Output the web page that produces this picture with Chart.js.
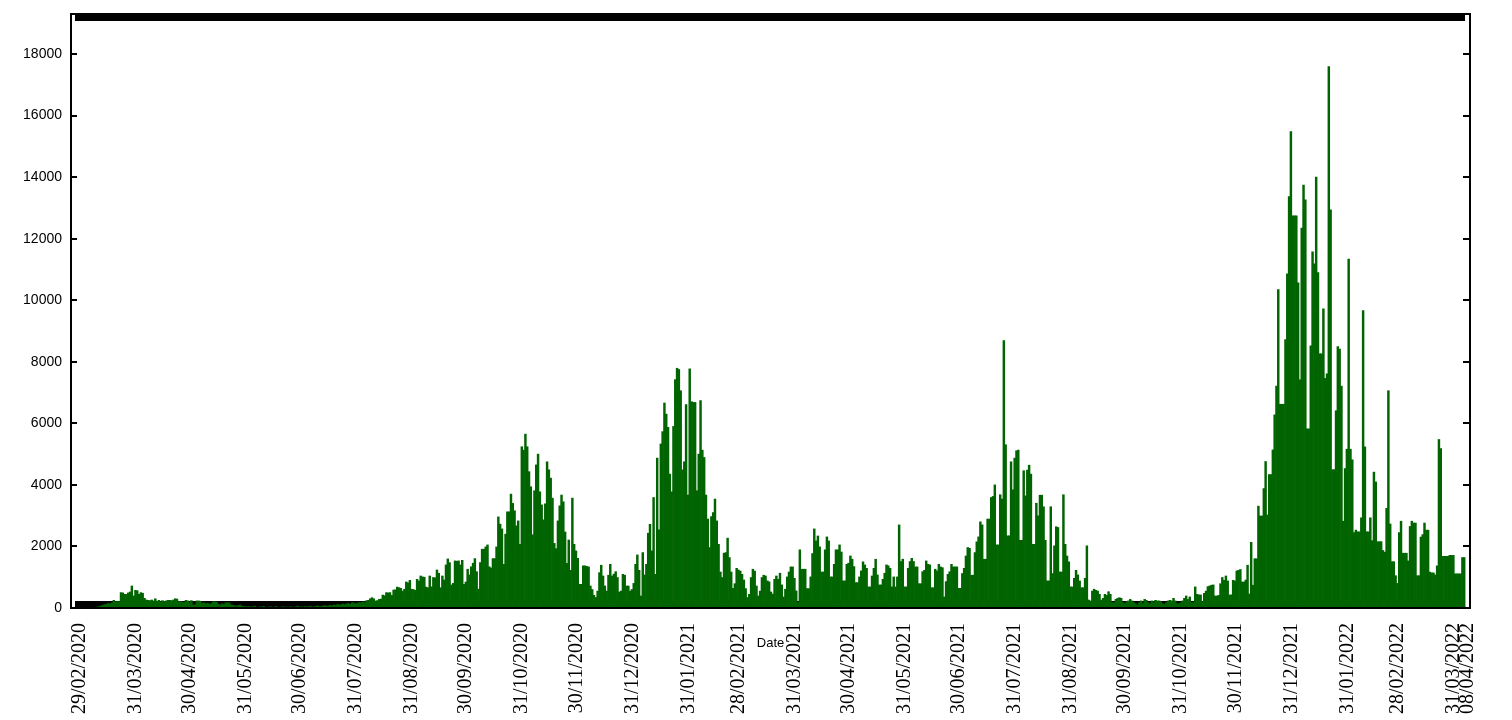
<!DOCTYPE html>
<html>
<head>
<meta charset="utf-8">
<title>Daily cases</title>
<script src="https://cdn.jsdelivr.net/npm/chart.js@4.4.1/dist/chart.umd.min.js"></script>
<style>
    html, body { margin: 0; padding: 0; background: #ffffff; }
</style>
</head>
<body>
<canvas id="myChart" width="1512" height="720"></canvas>
<script>
// daily values, one array per month
const feb2020 = [0];
const mar2020 = [0,2,0,3,5,2,8,10,12,20,25,35,45,70,90,110,120,150,140,170,250,200,210,200,500,490,445,440,490,520,715];
const apr2020 = [390,575,560,445,500,480,315,260,250,240,260,230,300,220,250,200,240,210,230,250,250,240,260,300,290,200,210,190,180,250];
const may2020 = [230,170,240,100,100,230,230,220,150,170,130,160,120,140,200,200,190,120,100,140,110,170,170,160,100,90,70,65,80,100,60];
const jun2020 = [50,45,40,45,30,35,60,25,20,40,30,55,20,15,35,40,25,30,50,20,15,30,45,25,35,20,40,30,25,45];
const jul2020 = [60,30,40,25,50,35,45,60,30,40,55,70,45,50,65,80,60,70,90,70,100,85,120,95,110,130,100,140,150,120,170];
const aug2020 = [160,130,150,180,170,200,170,240,250,300,335,300,230,240,280,290,420,400,500,490,500,410,585,590,680,660,640,550,610,845,820];
const sep2020 = [900,610,600,575,930,880,1040,1010,1000,680,660,1040,690,990,980,1235,1130,660,1040,910,1400,1595,1475,750,800,1530,1520,1530,1400,1550];
const oct2020 = [770,845,1260,1075,1340,1455,1605,1180,610,1475,1910,1910,1985,2050,1340,1300,1605,1605,1985,2960,2725,2570,1420,2400,3125,3125,3700,3400,3160,2670,2830];
const nov2020 = [2070,5240,5130,5650,5240,4430,3940,2380,3810,4650,5000,3775,3350,2865,3385,4750,4490,4220,3570,2100,1930,2830,3320,3670,3450,2470,1450,2210,1225,3570];
const dec2020 = [2070,1855,1615,770,770,1370,1370,1350,1335,715,600,410,340,550,1150,1390,1040,715,550,1065,1420,1040,1100,1180,990,520,550,1095,1065,715,715];
const jan2021 = [550,600,800,1420,1725,1225,390,1800,1075,1420,2430,2720,1855,3590,1095,4870,2540,5330,5730,6660,6300,5870,4350,3775,5900,7420,7790,7750,7060,4490,4750];
const feb2021 = [6610,3670,7770,6705,6680,6680,3810,5000,6740,5130,4890,3670,2890,1965,2970,3100,3540,2830,2070,1170,990,1780,1800,2270,1640,1170,640,790];
const mar2021 = [1290,1235,1200,1095,910,630,340,445,990,1260,1200,715,390,550,990,1065,1040,880,850,520,450,933,1040,933,1130,750,360,610,1010,1170,1335];
const apr2021 = [1335,965,555,175,1890,1260,1260,1260,630,630,1010,1770,2570,2180,2340,1985,1170,1170,1890,2310,2180,1010,1010,1420,1890,1890,2050,1820,880,880];
const may2021 = [1420,1455,1690,1585,1345,825,825,1010,1205,1500,1400,1290,685,685,1040,1290,1585,1075,750,750,933,1130,1400,1370,1290,685,1010,685,1010,2700,1510];
const jun2021 = [1585,685,685,1290,1510,1615,1510,1335,1335,790,790,1180,1225,1530,1420,1400,660,660,1260,1205,1420,1335,1310,360,857,1095,1180,1420,1335,1335];
const jul2021 = [1335,640,640,1120,1290,1690,1965,1940,1065,1065,1800,2150,2310,2800,2700,1585,1585,2890,2890,3590,3625,4000,2050,2050,3680,3540,8690,5305,2345,2345,4750];
const aug2021 = [3840,4870,5110,5130,2200,2200,4460,3645,4480,4640,4350,2070,2070,3405,2995,3665,3665,3290,2200,880,880,3290,1120,2020,2640,2615,1170,1170,3680,2070,1690];
const sep2021 = [1500,685,685,965,1225,1075,880,660,660,965,2020,260,230,550,610,575,550,445,260,315,445,410,530,445,175,175,280,315,335,315];
const oct2021 = [175,140,205,230,280,230,175,140,100,175,230,140,280,250,175,140,230,175,250,230,230,205,140,120,175,230,250,230,315,230,140];
const nov2021 = [140,175,230,315,390,280,360,175,175,685,445,425,425,205,477,550,695,715,740,750,390,390,410,790,990,900,1040,880,425,425];
const dec2021 = [900,880,1205,1225,1250,845,845,910,1390,455,2135,740,1600,1600,3310,2990,2990,3880,4760,3025,4335,4335,5135,6275,7210,10350,6620,6620,6620,8720,10860];
const jan2022 = [13370,15480,12745,12745,12745,10565,7415,12345,13740,13260,5820,5820,8520,11570,11180,14000,10895,8260,8260,9720,7460,7610,17595,12940,4495,4495,6410,8490,8410,7210,2820];
const feb2022 = [4530,5160,11340,5160,4815,2450,2530,2475,2475,2930,9665,5235,2475,2475,2930,2190,4415,4095,2155,2155,2155,1870,1815,3240,7060,2730,1505,1505];
const mar2022 = [1050,800,2450,2820,1780,1780,1780,1530,2650,2820,2760,2760,1050,1050,2305,2385,2760,2530,2530,1165,1140,1140,1075,1370,5475,5180,1680,1680,1680,1680,1710];
const apr2022 = [1710,1710,1110,1110,1110,1110,1640,1640];

const dailyCases = [].concat(
    feb2020, mar2020, apr2020, may2020, jun2020, jul2020, aug2020, sep2020, oct2020, nov2020, dec2020,
    jan2021, feb2021, mar2021, apr2021, may2021, jun2021, jul2021, aug2021, sep2021, oct2021, nov2021, dec2021,
    jan2022, feb2022, mar2022, apr2022
);

// dates written under the axis
const tickLabels =
[
    '29/02/2020', '31/03/2020', '30/04/2020', '31/05/2020', '30/06/2020', '31/07/2020',
    '31/08/2020', '30/09/2020', '31/10/2020', '30/11/2020', '31/12/2020', '31/01/2021',
    '28/02/2021', '31/03/2021', '30/04/2021', '31/05/2021', '30/06/2021', '31/07/2021',
    '31/08/2021', '30/09/2021', '31/10/2021', '30/11/2021', '31/12/2021', '31/01/2022',
    '28/02/2022', '31/03/2022', '08/04/2022'
];

// values written on the y axis
const yTickValues = [0, 2000, 4000, 6000, 8000, 10000, 12000, 14000, 16000, 18000];

// one date per bar, starting 29/02/2020
const firstDay = Date.UTC(2020, 1, 29);
const dayLabels = dailyCases.map(function(v, i)
{
    const d = new Date(firstDay + i * 86400000);
    const dd = String(d.getUTCDate()).padStart(2, '0');
    const mm = String(d.getUTCMonth() + 1).padStart(2, '0');
    return dd + '/' + mm + '/' + d.getUTCFullYear();
});

const points = dailyCases.map((v, i) => ({ x: i, y: v }));

// gnuplot style frame: border plus inward ticks on all four sides
const frame =
{
    id: 'frame',
    beforeDatasetsDraw(chart)
    {
        const { ctx, chartArea: a, scales: { x, y } } = chart;
        ctx.save();
        ctx.strokeStyle = '#000';
        ctx.lineWidth = 2;
        ctx.beginPath();
        for (let i = 0; i < x.ticks.length; i++)
        {
            const px = Math.round(x.getPixelForTick(i));
            ctx.moveTo(px, a.top);
            ctx.lineTo(px, a.top + 7);
            ctx.moveTo(px, a.bottom);
            ctx.lineTo(px, a.bottom - 7);
        }
        for (let i = 0; i < y.ticks.length; i++)
        {
            const py = Math.round(y.getPixelForTick(i));
            ctx.moveTo(a.left, py);
            ctx.lineTo(a.left + 6, py);
            ctx.moveTo(a.right, py);
            ctx.lineTo(a.right - 7, py);
        }
        ctx.stroke();
        ctx.restore();
    },
    afterDatasetsDraw(chart)
    {
        const { ctx, chartArea: a } = chart;
        ctx.save();
        ctx.strokeStyle = '#000';
        ctx.lineWidth = 2;
        ctx.strokeRect(a.left, a.top, a.right - a.left, a.bottom - a.top);
        ctx.restore();
    }
};

const config =
{
    type: 'bar',
    data:
    {
        datasets:
        [
            {
                label: 'Cases',
                data: points,
                backgroundColor: '#006400',
                borderWidth: 0,
                barPercentage: 1,
                categoryPercentage: 1
            }
        ]
    },
    options:
    {
        responsive: false,
        animation: false,
        layout: { padding: { top: 14, right: 42, left: 0, bottom: 0 } },
        plugins:
        {
            legend: { display: false },
            tooltip: { enabled: false }
        },
        scales:
        {
            x:
            {
                type: 'linear',
                min: -2.2,
                max: 771.7,
                afterBuildTicks(scale)
                {
                    scale.ticks = dailyCases.map((v, i) => ({ value: i }));
                },
                afterFit(scale)
                {
                    scale.height = 112;
                },
                ticks:
                {
                    autoSkip: false,
                    minRotation: 90,
                    maxRotation: 90,
                    padding: 15,
                    labelOffset: 4,
                    color: '#000',
                    font: { family: 'Liberation Serif', size: 20 },
                    callback: function(value)
                    {
                        const label = dayLabels[value];
                        return tickLabels.includes(label) ? label : '';
                    }
                },
                grid: { display: false, drawTicks: false },
                border: { display: false },
                title:
                {
                    display: true,
                    text: 'Date',
                    color: '#000',
                    font: { family: 'Liberation Sans', size: 13 },
                    padding: { top: 0, bottom: 69 }
                }
            },
            y:
            {
                min: 0,
                max: 19300,
                afterBuildTicks(scale)
                {
                    scale.ticks = yTickValues.map(v => ({ value: v }));
                },
                afterFit(scale)
                {
                    scale.width = 71;
                    scale.paddingTop = 0;
                    scale.paddingBottom = 0;
                },
                ticks:
                {
                    padding: 9,
                    color: '#000',
                    font: { family: 'Liberation Sans', size: 14 },
                    callback: value => String(value)
                },
                grid: { display: false, drawTicks: false },
                border: { display: false }
            }
        }
    },
    plugins: [frame]
};

new Chart(document.getElementById('myChart'), config);
</script>
</body>
</html>
